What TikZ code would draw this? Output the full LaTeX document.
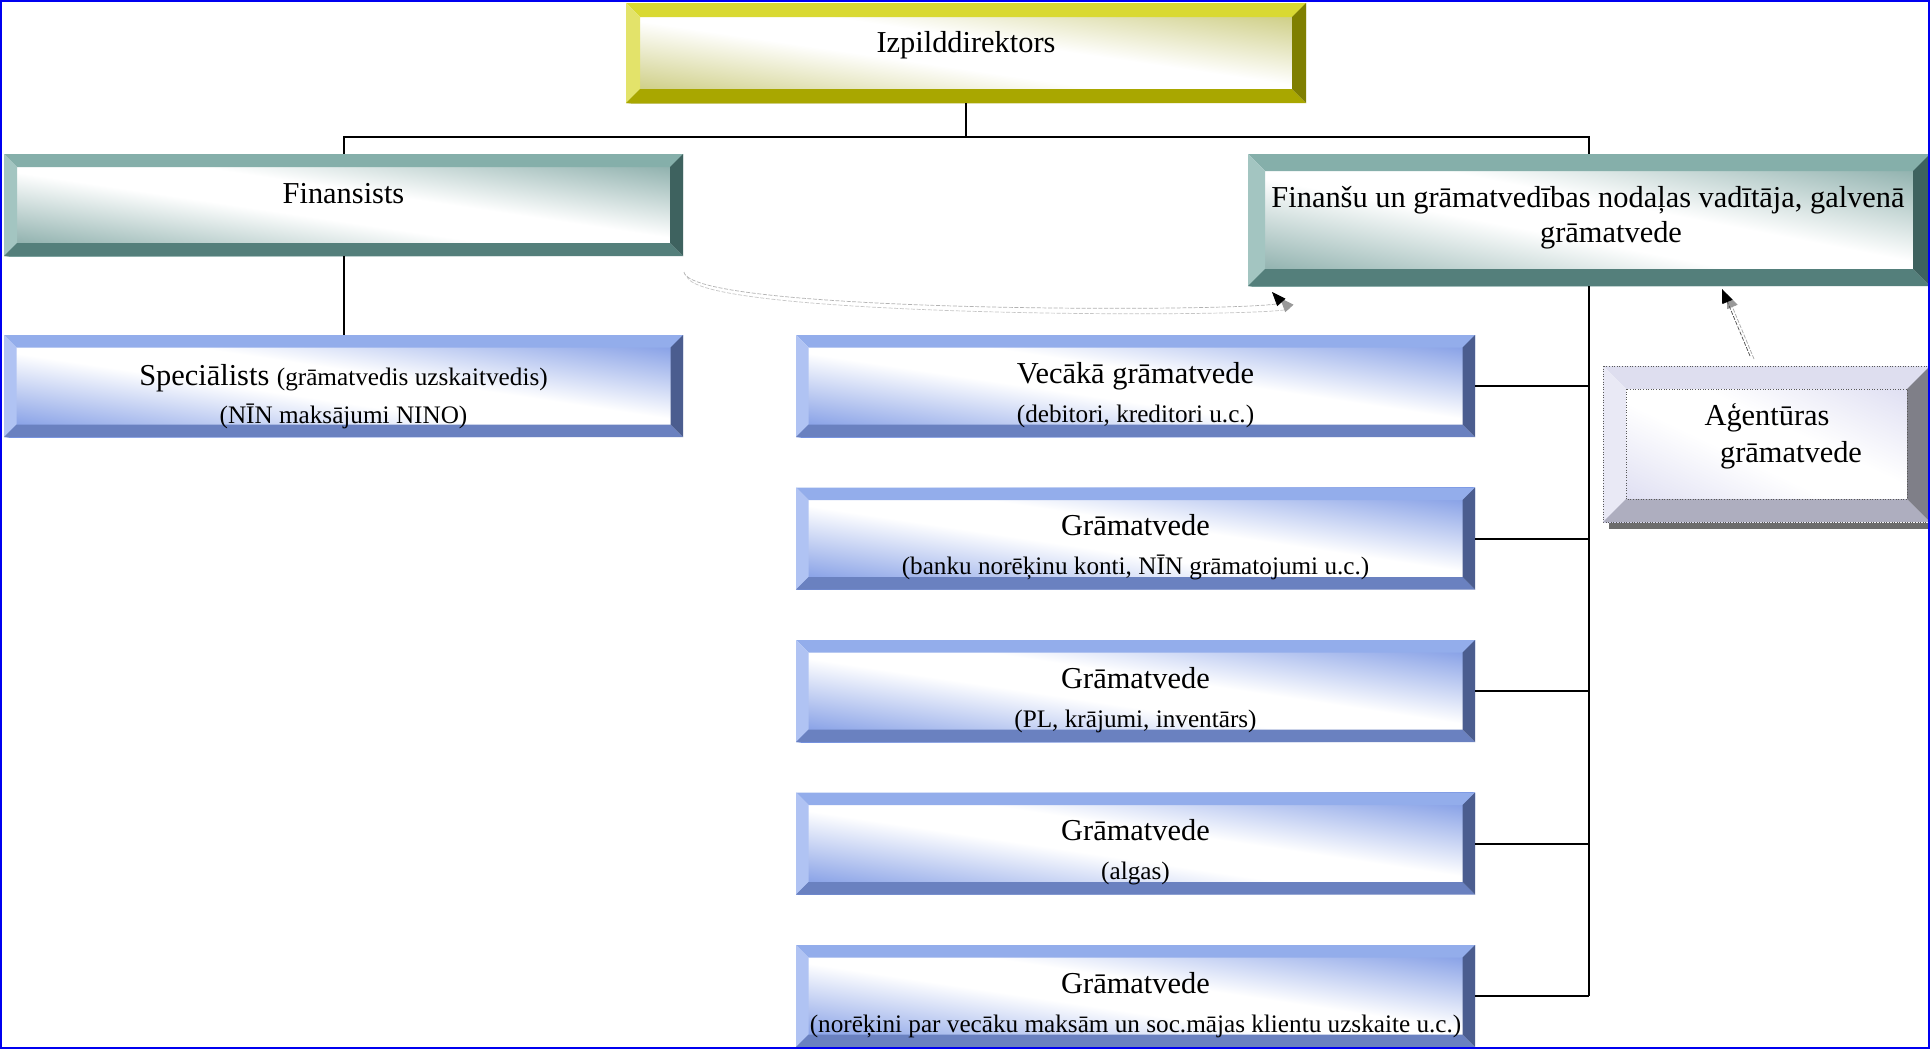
\documentclass[tikz,border=0pt]{standalone}
\usepackage{fontspec}
\setmainfont{Liberation Serif}
\usetikzlibrary{arrows.meta}
\definecolor{Ytop}{HTML}{D9D932}\definecolor{Yleft}{HTML}{E3E36A}\definecolor{Ybot}{HTML}{A9A700}\definecolor{Yright}{HTML}{7F7F00}\definecolor{Yface}{HTML}{C4C46C}
\definecolor{Ttop}{HTML}{85AFAA}\definecolor{Tleft}{HTML}{A3C5C1}\definecolor{Tbot}{HTML}{547F7B}\definecolor{Tright}{HTML}{3E625F}\definecolor{Tface}{HTML}{7AA29E}
\definecolor{Btop}{HTML}{93ADEB}\definecolor{Bleft}{HTML}{B0C3F3}\definecolor{Bbot}{HTML}{6A81C0}\definecolor{Bright}{HTML}{4B5D8F}\definecolor{Bface}{HTML}{7290E2}
\definecolor{Ltop}{HTML}{DEDEEF}\definecolor{Lleft}{HTML}{E9E9F5}\definecolor{Lbot}{HTML}{AEAEBF}\definecolor{Lright}{HTML}{7F7F88}\definecolor{Lface}{HTML}{D4D4EE}
\definecolor{frameblue}{HTML}{0000F0}
\colorlet{facec}{white}
\pgfdeclareverticalshading[facec]{bevface}{100bp}{color(0bp)=(facec); color(25bp)=(facec); color(46bp)=(white); color(54bp)=(white); color(75bp)=(facec); color(100bp)=(facec)}
\newcommand\fmain{\fontsize{15.2pt}{18pt}\selectfont}
\newcommand\fsub{\fontsize{12.6pt}{15pt}\selectfont}
% #1 name, #2 colour scheme prefix, #3 x1, #4 y1, #5 x2, #6 y2, #7 bevel (px)
\newcommand\bevnode[7]{%
  \pgfmathsetmacro\bwq{(#5-#3)/4}%
  \pgfmathsetmacro\bhq{(#6-#4)/4}%
  \pgfmathsetmacro\bnhq{-(#6-#4)/4}%
  \begin{scope}
    \clip (#3,#4) rectangle (#5,#6);
    \colorlet{facec}{#2face}%
    \begin{scope}[transform canvas={shift={({(#3+#5)/2},{(#4+#6)/2})}, cm={\bwq,\bnhq,\bwq,\bhq,(0pt,0pt)}}]
      \shade[shading=bevface] (-1pt,-1pt) rectangle (1pt,1pt);
    \end{scope}
  \end{scope}
  \fill[#2top] (#3,#4) -- (#5,#4) -- (#5-#7,#4+#7) -- (#3+#7,#4+#7) -- cycle;
  \fill[#2left] (#3,#4) -- (#3+#7,#4+#7) -- (#3+#7,#6-#7) -- (#3,#6) -- cycle;
  \fill[#2bot] (#3,#6) -- (#3+#7,#6-#7) -- (#5-#7,#6-#7) -- (#5,#6) -- cycle;
  \fill[#2right] (#5,#6) -- (#5-#7,#6-#7) -- (#5-#7,#4+#7) -- (#5,#4) -- cycle;
  \node[boxbase, minimum width={(#5-#3)*0.5pt}, minimum height={(#6-#4)*0.5pt}] (#1) at ({(#3+#5)/2},{(#4+#6)/2}) {};%
}
\tikzset{
  boxbase/.style={rectangle, inner sep=0pt, outer sep=0pt, draw=none},
  tmain/.style={anchor=base, inner sep=0pt, font=\fmain},
  tsub/.style={anchor=base, inner sep=0pt, font=\fsub},
  conn/.style={draw=black, line width=1pt},
  faint/.style={line width=0.35pt, dash pattern=on 2pt off 0.8pt},
}
\begin{document}
\begin{tikzpicture}[x=0.5pt,y=-0.5pt]
\useasboundingbox (0,0) rectangle (1930,1049);
\fill[white] (0,0) rectangle (1930,1049);

\bevnode{izp}{Y}{626}{3}{1306}{103}{14}
\bevnode{fin}{T}{4}{154}{683}{256}{13}
\bevnode{fng}{T}{1248}{154}{1930}{286}{17}
\bevnode{spec}{B}{4}{335}{683}{437}{12.5}
\bevnode{vec}{B}{796}{335}{1475}{437}{12.5}
\bevnode{gb}{B}{796}{487.5}{1475}{589.5}{12.5}
\bevnode{gc}{B}{796}{640}{1475}{742}{12.5}
\bevnode{gd}{B}{796}{792.5}{1475}{894.5}{12.5}
\bevnode{ge}{B}{796}{945}{1475}{1047}{12.5}

% agency box with shadow and dotted borders
\fill[gray!85!black] (1609,372) rectangle (1936,529);
\bevnode{ag}{L}{1603}{366}{1930}{522}{23}
\draw[gray!70!black, line width=0.3pt, densely dotted] (ag.north west) rectangle (ag.south east);
\draw[gray!70!black, line width=0.3pt, densely dotted] ([xshift=11.5pt,yshift=-11.5pt]ag.north west) rectangle ([xshift=-11.5pt,yshift=11.5pt]ag.south east);

% solid connectors
\draw[conn] (izp.south) -- ++(0,34) -| (fin.north);
\draw[conn] (izp.south) -- ++(0,34) -| (fng.north);
\draw[conn] (fin.south) -- (spec.north);
\draw[conn] (fng.south) -- (fng.south |- ge.east);
\foreach \b in {vec,gb,gc,gd,ge} { \draw[conn] (\b.east) -- (\b.east -| fng.south); }

% texts
\node[tmain] (izpt) at (966,52) {Izpilddirektors};
\node[tmain] (fint) at (343.5,203) {Finansists};
\node[tmain] (fngt1) at (1588,207) {Finanšu un grāmatvedības nodaļas vadītāja, galvenā};
\node[tmain] (fngt2) at (1611,242) {grāmatvede};
\node[tmain] (spect1) at (343.5,385) {Speciālists {\fsub (grāmatvedis uzskaitvedis)}};
\node[tsub] (spect2) at (343.5,423) {(NĪN maksājumi NINO)};
\node[tmain] (vect1) at (1135.5,383) {Vecākā grāmatvede};
\node[tsub] (vect2) at (1135.5,422) {(debitori, kreditori u.c.)};
\node[tmain] (gbt1) at (1135.5,535.5) {Grāmatvede};
\node[tsub] (gbt2) at (1135.5,574.5) {(banku norēķinu konti, NĪN grāmatojumi u.c.)};
\node[tmain] (gct1) at (1135.5,688) {Grāmatvede};
\node[tsub] (gct2) at (1135.5,727) {(PL, krājumi, inventārs)};
\node[tmain] (gdt1) at (1135.5,840.5) {Grāmatvede};
\node[tsub] (gdt2) at (1135.5,879.5) {(algas)};
\node[tmain] (get1) at (1135.5,993) {Grāmatvede};
\node[tsub] (get2) at (1135.5,1032) {(norēķini par vecāku maksām un soc.mājas klientu uzskaite u.c.)};
\node[tmain] (agt1) at (1767,425) {Aģentūras};
\node[tmain] (agt2) at (1791,462) {grāmatvede};

% dotted arrows
\coordinate (cvA) at (684,272);
\coordinate (cvB) at (1272,292);
\coordinate (cvAs) at (687,276);
\coordinate (cvBs) at (1280,298);
\draw[gray!45, faint, -{Triangle[length=7pt,width=5.5pt,color=gray!80]}] (cvAs) .. controls (693,319) and (1298,318) .. (cvBs);
\draw[gray!60, faint, -{Triangle[length=7pt,width=5.5pt,color=black]}] (cvA) .. controls (690,315) and (1290,312) .. (cvB);
\coordinate (agA) at (1750,356);
\coordinate (agB) at (1722,289);
\coordinate (agAs) at (1754,359);
\coordinate (agBs) at (1727,294);
\draw[gray!70, faint, -{Triangle[length=7pt,width=5.5pt,color=gray!80]}] (agAs) -- (agBs);
\draw[black!70, faint, -{Triangle[length=7pt,width=5.5pt,color=black]}] (agA) -- (agB);

% outer frame
\draw[frameblue, line width=1.2pt] (1,1) rectangle (1929,1048);
\end{tikzpicture}
\end{document}
